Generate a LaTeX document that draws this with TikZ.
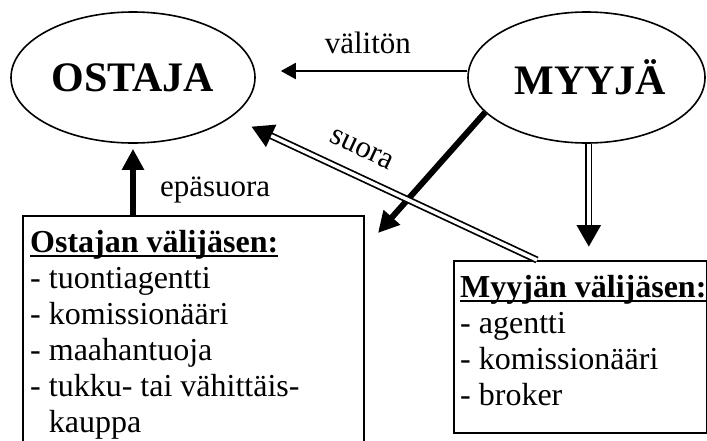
\documentclass[tikz,border=0pt]{standalone}
\usepackage{fontspec}
\setmainfont{Liberation Serif}
\usetikzlibrary{shapes.geometric,arrows.meta}
\newsavebox{\otsikkobox}
\newcommand{\otsikko}[1]{\sbox{\otsikkobox}{\bfseries #1}\rlap{\rule[-5pt]{\wd\otsikkobox}{2pt}}\usebox{\otsikkobox}}

\begin{document}
\begin{tikzpicture}[x=1pt,y=-1pt,
        kupla/.style={ellipse,draw,line width=1.6pt,inner sep=0pt,font=\fontsize{42}{48}\selectfont\bfseries},
        laatikko/.style={rectangle,draw,line width=1.6pt,inner sep=0pt,anchor=north west},
        teksti/.style={align=left,inner sep=0pt,anchor=north west,font=\fontsize{32}{36}\selectfont},
        merkki/.style={inner sep=0pt,font=\fontsize{31}{36}\selectfont},
        ohut/.style={line width=2pt,-{Triangle[length=15pt,width=16pt]}},
        paksu/.style={line width=6pt,-{Triangle[length=21pt,width=21pt]}},
        tupla/.style={line width=7pt,-{Triangle[length=22pt,width=23pt]}},
        tuplasisus/.style={white,line width=3.5pt}]
            \clip (0,0) rectangle (707,440);

            \node (ostaja) at (133,77.5) [kupla,minimum width=244pt,minimum height=131pt] {OSTAJA};
            \node (myyja) at (586.5,77.5) [kupla,minimum width=237pt,minimum height=131pt] {\hspace{8pt}MYYJÄ};

            \node (ostajanlaatikko) at (22,215) [laatikko,minimum width=341pt,minimum height=240pt] {};
            \node (myyjanlaatikko) at (453,260) [laatikko,minimum width=253pt,minimum height=172pt] {};

            \node (ostajanteksti) at (30,226.8) [teksti] {\strut\otsikko{Ostajan välijäsen:}\\- tuontiagentti\\- komissionääri\\- maahantuoja\\- tukku- tai vähittäis-\\\hphantom{- }kauppa};
            \node (myyjanteksti) at (460,271.8) [teksti] {\strut\otsikko{Myyjän välijäsen:}\\- agentti\\- komissionääri\\- broker};

            \coordinate (karki) at (378,233);

            \draw [ohut,shorten >=25pt] ([yshift=6.5pt]myyja.west) -- ([yshift=6.5pt]ostaja.east) node [merkki,above=16pt,pos=0.47] {välitön};
            \draw [paksu,shorten >=5pt] (ostaja.south |- ostajanlaatikko.north) -- (ostaja.south) node [merkki,right=24pt,pos=0.35] {epäsuora};
            \draw [paksu] (myyja.199) -- (karki);

            \draw [tupla,shorten >=13pt] (myyja.272) -- (myyja.272 |- myyjanlaatikko.north);
            \draw [tuplasisus,shorten >=35pt] (myyja.272) -- (myyja.272 |- myyjanlaatikko.north);

            \draw [tupla,shorten >=22pt] ([xshift=84pt]myyjanlaatikko.north west) -- (ostaja.-22) node [merkki,sloped,above=15pt,pos=0.61] {suora};
            \draw [tuplasisus,shorten >=44pt] ([xshift=84pt]myyjanlaatikko.north west) -- (ostaja.-22);

        \end{tikzpicture}
\end{document}
